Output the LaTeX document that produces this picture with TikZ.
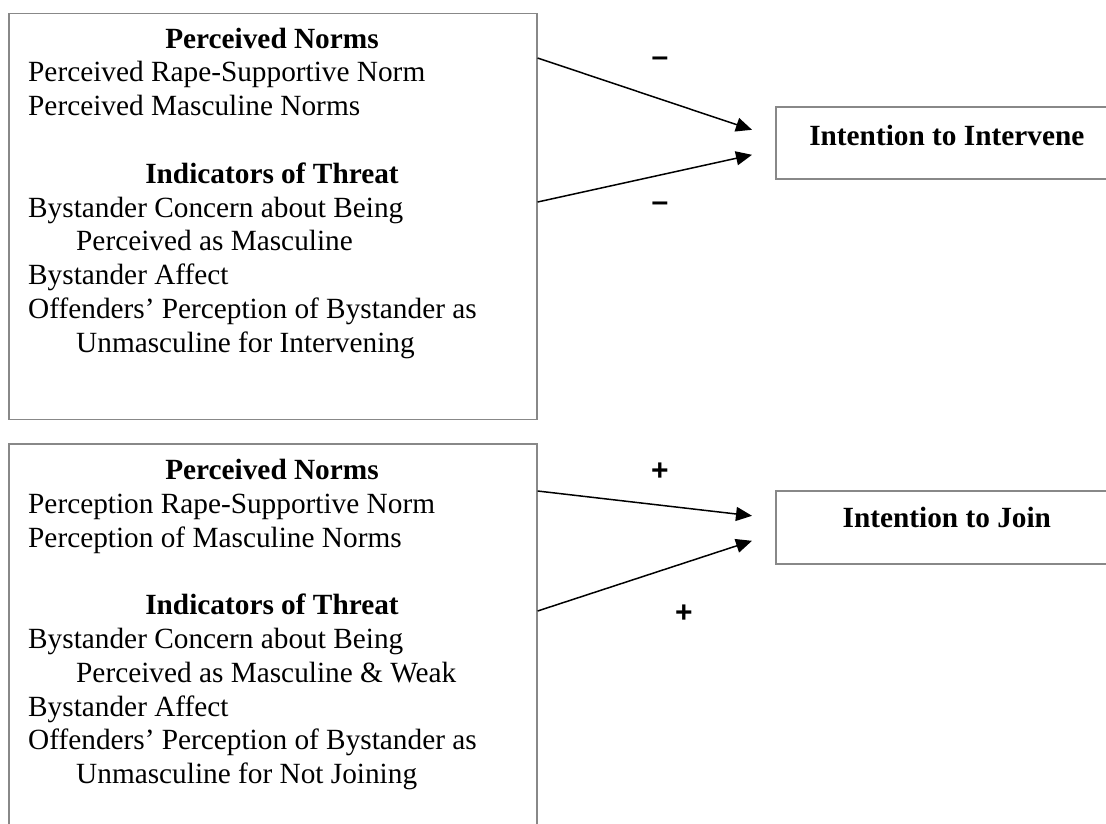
\documentclass[tikz,border=0pt]{standalone}
\usepackage{fontspec}
\setmainfont{Liberation Serif}
\newfontfamily\signfont{Liberation Sans}
\usetikzlibrary{arrows.meta,calc}
\definecolor{boxgray}{RGB}{136,136,136}
\begin{document}
\begin{tikzpicture}[x=1pt,y=-1pt,
  box/.style={draw=boxgray, line width=1.6pt, inner sep=0pt},
  hd/.style={inner sep=0pt, anchor=base, font=\fontsize{29.3}{33.8}\selectfont\bfseries},
  ln/.style={inner sep=0pt, anchor=base west, font=\fontsize{29.3}{33.8}\selectfont},
  outcome/.style={box, minimum width=342pt, font=\fontsize{29.3}{33.8}\selectfont\bfseries},
  sign/.style={inner sep=0pt, font=\fontsize{30}{34}\selectfont\signfont\bfseries},
  conn/.style={line width=1.5pt, -{Triangle[length=16pt,width=14pt]}}]
\clip (0,0) rectangle (1106,823);
\fill[white] (0,0) rectangle (1106,823);

% left boxes
\node[box, anchor=north west, minimum width=528pt, minimum height=406pt] (topL) at (8,12.5) {};
\node[box, anchor=north west, minimum width=528pt, minimum height=420pt] (botL) at (8,443) {};

% outcome boxes
\node[outcome, anchor=north west, minimum height=72pt, text height=20pt, text depth=14pt] (ri) at (775,106) {Intention to Intervene};
\node[outcome, anchor=north west, minimum height=73pt, text height=17pt, text depth=17pt] (rj) at (775,490) {Intention to Join};

% top box text
\node[hd] (t1) at (272,48) {Perceived Norms};
\node[ln] (t2) at (28,81.8) {Perceived Rape-Supportive Norm};
\node[ln] (t3) at (28,115.6) {Perceived Masculine Norms};
\node[hd] (t4) at (272,183.2) {Indicators of Threat};
\node[ln] (t5) at (28,217) {Bystander Concern about Being};
\node[ln] (t6) at (76,250.8) {Perceived as Masculine};
\node[ln] (t7) at (28,284.6) {Bystander Affect};
\node[ln] (t8) at (28,318.4) {Offenders’ Perception of Bystander as};
\node[ln] (t9) at (76,352.2) {Unmasculine for Intervening};

% bottom box text
\node[hd] (b1) at (272,479.5) {Perceived Norms};
\node[ln] (b2) at (28,513.3) {Perception Rape-Supportive Norm};
\node[ln] (b3) at (28,547.1) {Perception of Masculine Norms};
\node[hd] (b4) at (272,614.7) {Indicators of Threat};
\node[ln] (b5) at (28,648.5) {Bystander Concern about Being};
\node[ln] (b6) at (76,682.3) {Perceived as Masculine \& Weak};
\node[ln] (b7) at (28,716.1) {Bystander Affect};
\node[ln] (b8) at (28,749.9) {Offenders’ Perception of Bystander as};
\node[ln] (b9) at (76,783.7) {Unmasculine for Not Joining};

% connector ends
\coordinate (s1) at ($(topL.north east)+(0,45.5)$);
\coordinate (s2) at ($(topL.north east)+(0,189.5)$);
\coordinate (e1) at ($(ri.west)+(-23,-13)$);
\coordinate (e2) at ($(ri.west)+(-23,12)$);
\coordinate (s3) at ($(botL.north east)+(0,48)$);
\coordinate (s4) at ($(botL.north east)+(0,168)$);
\coordinate (e3) at ($(rj.west)+(-23,-11.5)$);
\coordinate (e4) at ($(rj.west)+(-23,13.5)$);

\draw[conn] (s1) -- (e1);
\draw[conn] (s2) -- (e2);
\draw[conn] (s3) -- (e3);
\draw[conn] (s4) -- (e4);

% signs
\node[sign] (g1) at (660,62) {–};
\node[sign] (g2) at (660,207) {–};
\node[sign] (g3) at (660,472) {+};
\node[sign] (g4) at (684,614) {+};
\end{tikzpicture}
\end{document}
